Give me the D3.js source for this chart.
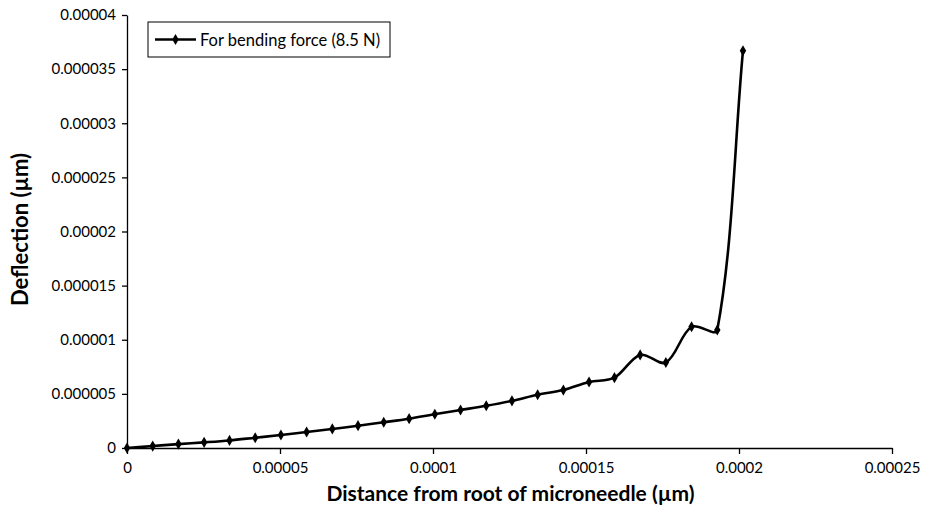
<!DOCTYPE html>
<html>
<head>
<meta charset="utf-8">
<script src="https://cdn.jsdelivr.net/npm/d3@7"></script>
<style>
  html, body { margin: 0; padding: 0; background: #fff; }
  svg { display: block; }
  text { font-family: Lato, "Open Sans", sans-serif; fill: #000; }
</style>
</head>
<body>
<svg id="chart" width="933" height="513"></svg>
<script>
// Deflection along the microneedle under an 8.5 N bending force
const distance = [
  0, 0.0000084, 0.0000168, 0.0000252, 0.0000335, 0.0000419, 0.0000503,
  0.0000587, 0.0000671, 0.0000755, 0.0000839, 0.0000922, 0.0001006,
  0.000109, 0.0001174, 0.0001258, 0.0001342, 0.0001426, 0.000151,
  0.0001593, 0.0001677, 0.0001761, 0.0001845, 0.0001929, 0.0002013
];
const deflection = [
  0, 0.00000018, 0.00000036, 0.00000052, 0.0000007, 0.00000095, 0.0000012,
  0.00000148, 0.00000176, 0.00000206, 0.00000238, 0.00000271, 0.00000312,
  0.00000351, 0.0000039, 0.00000436, 0.00000492, 0.00000535, 0.0000061,
  0.0000065, 0.0000086, 0.0000079, 0.0000112, 0.0000109, 0.0000367
];
const xTickValues = [0, 0.00005, 0.0001, 0.00015, 0.0002, 0.00025];
const xTickLabels = ["0", "0.00005", "0.0001", "0.00015", "0.0002", "0.00025"];
const yTickValues = [0, 0.000005, 0.00001, 0.000015, 0.00002, 0.000025, 0.00003, 0.000035, 0.00004];
const yTickLabels = ["0", "0.000005", "0.00001", "0.000015", "0.00002", "0.000025", "0.00003", "0.000035", "0.00004"];
const seriesName = "For bending force (8.5 N)";
const xTitle = "Distance from root of microneedle (\u00b5m)";
const yTitle = "Deflection (\u00b5m)";

const points = distance.map((d, i) => ({ x: d, y: deflection[i] }));

const svg = d3.select("#chart");
const plot = { left: 127, right: 892, top: 15, bottom: 448 };

const x = d3.scaleLinear().domain([0, 0.00025]).range([plot.left, plot.right]);
const y = d3.scaleLinear().domain([0, 0.00004]).range([plot.bottom, plot.top]);

// Axes
const xAxis = d3.axisBottom(x)
  .tickValues(xTickValues)
  .tickFormat((d, i) => xTickLabels[i])
  .tickSizeInner(6).tickSizeOuter(0).tickPadding(8);
const yAxis = d3.axisLeft(y)
  .tickValues(yTickValues)
  .tickFormat((d, i) => yTickLabels[i])
  .tickSizeInner(5).tickSizeOuter(0).tickPadding(6);

const gx = svg.append("g").attr("transform", `translate(0,${plot.bottom})`).call(xAxis);
const gy = svg.append("g").attr("transform", `translate(${plot.left},0)`).call(yAxis);
[gx, gy].forEach(g => {
  g.selectAll("path.domain").attr("stroke", "#000").attr("stroke-width", 1.3);
  g.selectAll(".tick line").attr("stroke", "#000").attr("stroke-width", 1.3);
  g.selectAll(".tick text")
    .style("font-family", "Lato, sans-serif")
    .style("font-size", "15px")
    .attr("fill", "#000");
});

// Smoothed series: cubic Bezier segments whose tangent handles are
// weighted by the lengths of the neighbouring chords (spreadsheet-style smoothing)
function smoothPath(pts) {
  const p = d3.path();
  const n = pts.length;
  const dist = (a, b) => Math.hypot(b[0] - a[0], b[1] - a[1]);
  p.moveTo(pts[0][0], pts[0][1]);
  for (let i = 0; i < n - 1; i++) {
    const p0 = pts[Math.max(i - 1, 0)];
    const p1 = pts[i];
    const p2 = pts[i + 1];
    const p3 = pts[Math.min(i + 2, n - 1)];
    const d01 = dist(p0, p1), d12 = dist(p1, p2), d23 = dist(p2, p3);
    const k1 = d12 / (d01 + d12) / 3;
    const k2 = d12 / (d12 + d23) / 3;
    p.bezierCurveTo(
      p1[0] + (p2[0] - p0[0]) * k1, p1[1] + (p2[1] - p0[1]) * k1,
      p2[0] - (p3[0] - p1[0]) * k2, p2[1] - (p3[1] - p1[1]) * k2,
      p2[0], p2[1]
    );
  }
  return p.toString();
}

svg.append("path")
  .attr("fill", "none")
  .attr("stroke", "#000")
  .attr("stroke-width", 2.6)
  .attr("stroke-linejoin", "round")
  .attr("d", smoothPath(points.map(d => [x(d.x), y(d.y)])));

const diamond = d3.symbol().type(d3.symbolDiamond).size(36);
svg.append("g").selectAll("path")
  .data(points)
  .join("path")
  .attr("d", diamond)
  .attr("transform", d => `translate(${x(d.x)},${y(d.y)})`)
  .attr("fill", "#000");

// Axis titles
svg.append("text")
  .attr("x", (plot.left + plot.right) / 2 + 1)
  .attr("y", 501)
  .attr("text-anchor", "middle")
  .style("font-size", "21px")
  .style("font-weight", "bold")
  .text(xTitle);

svg.append("text")
  .attr("transform", `translate(28,${(plot.top + plot.bottom) / 2 - 2}) rotate(-90)`)
  .attr("text-anchor", "middle")
  .style("font-size", "22px")
  .style("font-weight", "bold")
  .text(yTitle);

// Legend
const legend = svg.append("g").attr("transform", "translate(148,22)");
legend.append("rect")
  .attr("width", 242).attr("height", 35)
  .attr("fill", "#fff")
  .attr("stroke", "#000").attr("stroke-width", 1);
legend.append("line")
  .attr("x1", 7).attr("x2", 48).attr("y1", 17.5).attr("y2", 17.5)
  .attr("stroke", "#000").attr("stroke-width", 2.6);
legend.append("path")
  .attr("d", diamond)
  .attr("transform", "translate(27.5,17.5)")
  .attr("fill", "#000");
legend.append("text")
  .attr("x", 52).attr("y", 23.5)
  .style("font-size", "16.5px")
  .text(seriesName);
</script>
</body>
</html>
